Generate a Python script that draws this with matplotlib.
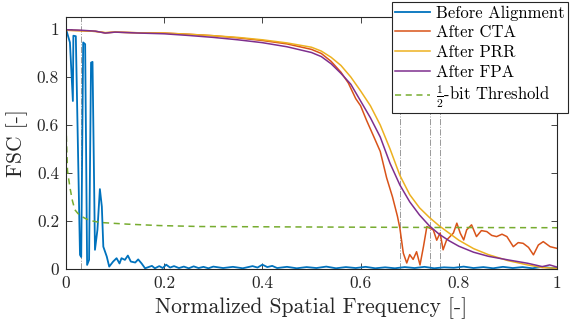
import numpy as np
import matplotlib
matplotlib.use("Agg")
import matplotlib.pyplot as plt

plt.rcParams['font.family'] = 'serif'
plt.rcParams['font.serif'] = ['cmr10', 'DejaVu Serif']
plt.rcParams['mathtext.fontset'] = 'cm'
plt.rcParams['axes.unicode_minus'] = False
plt.rcParams['axes.formatter.use_mathtext'] = True

# ---- data ----
x_before = [0.0, 0.008, 0.014, 0.015, 0.02, 0.0285, 0.031, 0.035, 0.039, 0.043,
            0.047, 0.051, 0.054, 0.059, 0.064, 0.069, 0.073, 0.076, 0.083, 0.088,
            0.096, 0.103, 0.109, 0.113, 0.12, 0.126, 0.132, 0.141, 0.147, 0.154,
            0.161, 0.168, 0.175, 0.181, 0.19, 0.197, 0.204, 0.212, 0.22, 0.23,
            0.24, 0.25, 0.26, 0.27, 0.28, 0.29, 0.30, 0.32, 0.34, 0.36, 0.38,
            0.39, 0.40, 0.41, 0.42, 0.43, 0.45, 0.47, 0.49, 0.51, 0.53, 0.55,
            0.57, 0.59, 0.61, 0.63, 0.65, 0.67, 0.69, 0.71, 0.73, 0.75, 0.77,
            0.79, 0.81, 0.83, 0.85, 0.87, 0.89, 0.91, 0.93, 0.95, 0.97, 0.99, 1.0]
y_before = [1.0, 0.944, 0.70, 0.972, 0.97, 0.059, 0.05, 0.944, 0.937, 0.017,
            0.038, 0.86, 0.863, 0.08, 0.163, 0.333, 0.26, 0.093, 0.052, 0.01,
            0.031, 0.045, 0.023, 0.045, 0.038, 0.056, 0.031, 0.027, 0.04, 0.023,
            0.003, 0.008, 0.013, 0.003, 0.012, 0.004, 0.018, 0.006, 0.012, 0.004,
            0.01, 0.003, 0.011, 0.004, 0.009, 0.003, 0.01, 0.004, 0.009, 0.003,
            0.012, 0.006, 0.018, 0.008, 0.013, 0.004, 0.009, 0.003, 0.008, 0.004,
            0.01, 0.003, 0.008, 0.004, 0.009, 0.003, 0.007, 0.003, 0.008, 0.004,
            0.009, 0.003, 0.007, 0.005, 0.01, 0.004, 0.008, 0.003, 0.009, 0.004,
            0.008, 0.003, 0.009, 0.004, 0.005]

x_cta = [0.0, 0.03, 0.06, 0.08, 0.1, 0.15, 0.2, 0.25, 0.3, 0.35, 0.4, 0.45,
         0.5, 0.52, 0.54, 0.56, 0.575, 0.59, 0.6, 0.612, 0.625, 0.64, 0.653,
         0.665, 0.675, 0.68, 0.687, 0.694, 0.7, 0.707, 0.714, 0.721, 0.728,
         0.735, 0.741, 0.748, 0.755, 0.762, 0.768, 0.775, 0.782, 0.789, 0.796,
         0.803, 0.81, 0.816, 0.826, 0.836, 0.846, 0.857, 0.867, 0.877, 0.888,
         0.898, 0.911, 0.921, 0.931, 0.942, 0.952, 0.962, 0.972, 0.986, 1.0]
y_cta = [0.995, 0.993, 0.99, 0.984, 0.987, 0.984, 0.983, 0.978, 0.972, 0.963,
         0.952, 0.938, 0.915, 0.898, 0.865, 0.82, 0.775, 0.71, 0.68, 0.62, 0.56,
         0.49, 0.38, 0.30, 0.22, 0.17, 0.066, 0.025, 0.06, 0.04, 0.072, 0.017,
         0.093, 0.177, 0.17, 0.163, 0.12, 0.15, 0.08, 0.12, 0.135, 0.15, 0.191,
         0.149, 0.121, 0.163, 0.184, 0.135, 0.16, 0.156, 0.14, 0.135, 0.145,
         0.135, 0.093, 0.11, 0.107, 0.09, 0.059, 0.1, 0.114, 0.093, 0.086]

x_prr = [0.0, 0.03, 0.06, 0.08, 0.1, 0.15, 0.2, 0.25, 0.3, 0.35, 0.4, 0.45,
         0.5, 0.52, 0.54, 0.56, 0.58, 0.6, 0.62, 0.64, 0.66, 0.68, 0.7, 0.72,
         0.74, 0.76, 0.78, 0.8, 0.83, 0.86, 0.9, 0.94, 0.97, 1.0]
y_prr = [0.995, 0.993, 0.99, 0.985, 0.987, 0.984, 0.983, 0.978, 0.972, 0.965,
         0.955, 0.942, 0.924, 0.908, 0.882, 0.848, 0.80, 0.742, 0.68, 0.60,
         0.50, 0.39, 0.31, 0.255, 0.215, 0.18, 0.15, 0.12, 0.085, 0.06,
         0.035, 0.017, 0.006, 0.003]

x_fpa = [0.0, 0.03, 0.06, 0.08, 0.1, 0.15, 0.2, 0.25, 0.3, 0.35, 0.4, 0.45,
         0.5, 0.52, 0.54, 0.56, 0.58, 0.6, 0.62, 0.64, 0.66, 0.68, 0.7, 0.72,
         0.74, 0.76, 0.78, 0.8, 0.83, 0.86, 0.9, 0.94, 0.97, 0.985, 1.0]
y_fpa = [0.997, 0.995, 0.991, 0.983, 0.987, 0.983, 0.98, 0.973, 0.965, 0.955,
         0.943, 0.926, 0.902, 0.885, 0.855, 0.815, 0.77, 0.70, 0.63, 0.55, 0.44,
         0.35, 0.28, 0.225, 0.18, 0.145, 0.118, 0.095, 0.07, 0.053, 0.038,
         0.024, 0.01, 0.017, 0.008]

x_thr = [0.0, 0.003, 0.008, 0.013, 0.018, 0.024, 0.029, 0.04, 0.049, 0.069,
         0.1, 0.124, 0.19, 0.273, 0.5, 0.75, 1.0]
y_thr = [0.6, 0.41, 0.34, 0.285, 0.247, 0.232, 0.222, 0.21, 0.202, 0.194,
         0.19, 0.187, 0.181, 0.177, 0.175, 0.173, 0.172]

x_cross = [0.03, 0.681, 0.742, 0.762]

tick_vals = [0, 0.2, 0.4, 0.6, 0.8, 1]
tick_labels = ['0', '0.2', '0.4', '0.6', '0.8', '1']

# ---- figure ----
fig = plt.figure(figsize=(5.7, 3.25), dpi=100)
ax = fig.add_axes([66 / 570, 56 / 325, 491 / 570, 252 / 325])

for xc in x_cross:
    ax.axvline(xc, color='0.6', lw=0.7, ls='-.', zorder=1)

ax.plot(x_before, y_before, color='#0072BD', lw=1.3, label='Before Alignment')
ax.plot(x_cta, y_cta, color='#D95319', lw=1.1, label='After CTA')
ax.plot(x_prr, y_prr, color='#EDB120', lw=1.1, label='After PRR')
ax.plot(x_fpa, y_fpa, color='#7E2F8E', lw=1.1, label='After FPA')
ax.plot(x_thr, y_thr, color='#77AC30', lw=1.1, ls=(0, (4, 3)),
        label=r'$\frac{1}{2}$-bit Threshold')

ax.set_xlim(0, 1)
ax.set_ylim(0, 1.05)
ax.set_xticks(tick_vals)
ax.set_xticklabels(tick_labels)
ax.set_yticks(tick_vals)
ax.set_yticklabels(tick_labels)
ax.tick_params(direction='in', length=4, width=0.6, top=True, right=True,
               labelsize=12.5, colors='0.15', pad=5)
for sp in ax.spines.values():
    sp.set_linewidth(0.8)
    sp.set_color('0.15')

ax.set_xlabel('Normalized Spatial Frequency [-]', fontsize=15.5, color='0.15')
ax.set_ylabel('FSC [-]', fontsize=15.5, color='0.15', labelpad=6)

leg = ax.legend(loc='upper left', bbox_to_anchor=(392 / 570, 1 - 2 / 325),
                bbox_transform=fig.transFigure, fontsize=12, frameon=True,
                fancybox=False, framealpha=1, edgecolor='0.15',
                handlelength=2.1, handletextpad=0.35, borderpad=0.2,
                labelspacing=0.26, borderaxespad=0)
leg.get_frame().set_linewidth(0.8)

fig.savefig('out.png', dpi=100)
